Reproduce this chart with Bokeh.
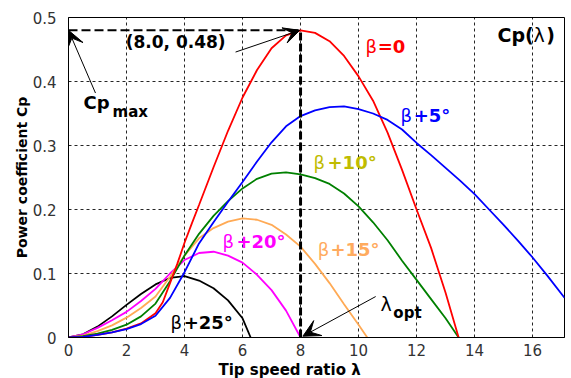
from bokeh.plotting import figure
from bokeh.models import Range1d, FixedTicker, Arrow, VeeHead, Label, Title
from bokeh.embed import file_html
from bokeh.resources import INLINE

# ---- data ----
x_ticks = [0, 2, 4, 6, 8, 10, 12, 14, 16]
y_ticks = [0, 0.1, 0.2, 0.3, 0.4, 0.5]

lam_b0 = [0, 0.5, 1, 1.5, 2, 2.5, 3, 3.25, 3.5, 3.75, 4, 4.25, 4.5, 5, 5.5, 6, 6.5, 7, 7.5, 8,
          8.5, 9, 9.5, 10, 10.5, 11, 11.5, 12, 12.5, 13, 13.45]
cp_b0 = [0, 0.001, 0.004, 0.008, 0.014, 0.022, 0.038, 0.055, 0.085, 0.115, 0.148, 0.178, 0.207,
         0.266, 0.323, 0.375, 0.418, 0.452, 0.472, 0.48,
         0.476, 0.463, 0.44, 0.408, 0.37, 0.32, 0.262, 0.2, 0.14, 0.07, 0]

lam_b5 = [0, 0.5, 1, 1.5, 2, 2.5, 3, 3.5, 4, 4.5, 5, 5.5, 6, 6.5, 7, 7.5, 8, 8.5, 9, 9.5, 10,
          10.5, 11, 11.5, 12, 12.5, 13, 13.5, 14, 14.5, 15, 15.5, 16, 16.5, 17.1]
cp_b5 = [0, 0.001, 0.004, 0.008, 0.013, 0.021, 0.034, 0.062, 0.102, 0.147, 0.18, 0.212, 0.243,
         0.275, 0.305, 0.33, 0.346, 0.355, 0.36, 0.361, 0.357,
         0.35, 0.34, 0.325, 0.304, 0.285, 0.265, 0.245, 0.224, 0.2, 0.176, 0.151, 0.125, 0.097, 0.062]

lam_b10 = [0, 0.5, 1, 1.5, 2, 2.5, 3, 3.5, 4, 4.5, 5, 5.5, 6, 6.5, 7, 7.5, 8, 8.5, 9, 9.5, 10,
           10.5, 11, 11.5, 12, 12.5, 13, 13.45]
cp_b10 = [0, 0.002, 0.006, 0.012, 0.02, 0.033, 0.053, 0.088, 0.128, 0.162, 0.19, 0.213, 0.233,
          0.248, 0.256, 0.258, 0.255, 0.249, 0.24, 0.225, 0.205,
          0.18, 0.152, 0.12, 0.09, 0.06, 0.03, 0]

lam_b15 = [0, 0.5, 1, 1.5, 2, 2.5, 3, 3.5, 4, 4.5, 5, 5.5, 6, 6.5, 7, 7.5, 8, 8.5, 9, 9.5, 10, 10.3]
cp_b15 = [0, 0.003, 0.01, 0.019, 0.031, 0.046, 0.064, 0.095, 0.128, 0.155, 0.171, 0.181, 0.186,
          0.184, 0.176, 0.161, 0.142, 0.115, 0.085, 0.052, 0.02, 0]

lam_b20 = [0, 0.5, 1, 1.5, 2, 2.5, 3, 3.5, 4, 4.5, 5, 5.5, 6, 6.5, 7, 7.5, 8]
cp_b20 = [0, 0.005, 0.015, 0.027, 0.04, 0.057, 0.076, 0.1, 0.121, 0.132, 0.134, 0.128, 0.117,
          0.098, 0.074, 0.042, 0]

lam_b25 = [0, 0.5, 1, 1.5, 2, 2.5, 3, 3.5, 4, 4.5, 5, 5.5, 6, 6.28]
cp_b25 = [0, 0.005, 0.017, 0.033, 0.051, 0.068, 0.083, 0.093, 0.096, 0.089, 0.077, 0.058, 0.03, 0]

lam_opt = 8.0
cp_max = 0.48

FONT = "DejaVu Sans"

p = figure(width=568, height=378, x_range=Range1d(0, 17.1), y_range=Range1d(0, 0.5),
           output_backend="svg", toolbar_location=None,
           min_border_left=68, min_border_right=4, min_border_top=17, min_border_bottom=40)
p.background_fill_color = "white"
p.border_fill_color = "white"
p.outline_line_color = "black"
p.outline_line_width = 1
p.outline_line_alpha = 1

p.xaxis.ticker = FixedTicker(ticks=x_ticks)
p.yaxis.ticker = FixedTicker(ticks=y_ticks)
p.yaxis.major_label_overrides = {0: "0"}
for ax in (p.xaxis, p.yaxis):
    ax.axis_line_color = "black"
    ax.major_tick_line_color = None
    ax.minor_tick_line_color = None
    ax.major_label_text_font = FONT
    ax.major_label_text_font_size = "15px"
    ax.major_label_text_color = "#333333"
    ax.axis_label_text_font = FONT
    ax.axis_label_text_font_style = "bold"
    ax.axis_label_text_color = "black"
p.xaxis.major_label_standoff = 0
p.yaxis.axis_label = "Power coefficient Cp"
p.yaxis.axis_label_text_font_size = "14px"
p.yaxis.major_label_standoff = 6
p.yaxis.axis_label_standoff = 0

# x axis title, left of centre as in the reference
p.add_layout(Title(text="Tip speed ratio λ", align="left", offset=150, standoff=0,
                   text_font=FONT, text_font_size="15px", text_font_style="bold",
                   text_color="black"), "below")

for g in (p.xgrid, p.ygrid):
    g.grid_line_color = "black"
    g.grid_line_dash = "3 3"
    g.grid_line_width = 1
    g.grid_line_alpha = 0.85

curves = [
    (lam_b25, cp_b25, "black"),
    (lam_b20, cp_b20, "#ff00ff"),
    (lam_b15, cp_b15, "#ffaa55"),
    (lam_b10, cp_b10, "#008000"),
    (lam_b0, cp_b0, "#ff0000"),
    (lam_b5, cp_b5, "#0000ff"),
]
for xs, ys, c in curves:
    p.line(xs, ys, line_color=c, line_width=1.8)

# optimum markers
p.line([0, lam_opt], [cp_max, cp_max], line_color="black", line_width=2, line_dash="9 4")
p.line([lam_opt, lam_opt], [0, cp_max], line_color="black", line_width=3, line_dash="8 3")

def arrow(x0, y0, x1, y1, size):
    p.add_layout(Arrow(end=VeeHead(size=size, fill_color="black", line_color="black"),
                       x_start=x0, y_start=y0, x_end=x1, y_end=y1,
                       line_color="black", line_width=1))

arrow(0.93, 0.382, 0.0, cp_max, 17)
arrow(5.76, 0.446, lam_opt - 0.03, cp_max, 16)
arrow(10.59, 0.064, lam_opt + 0.08, 0.002, 17)

def label(x, y, text, color="black", size="18px", style="bold"):
    p.add_layout(Label(x=x, y=y, text=text, text_color=color, text_font=FONT,
                       text_font_size=size, text_font_style=style,
                       text_baseline="middle", text_align="left"))

label(1.97, 0.461, "(8.0, 0.48)", size="17px")
label(0.52, 0.367, "Cp", size="18px")
label(1.52, 0.352, "max", size="15px")

def beta(xb, xr, y, rest, color):
    label(xb, y, "β", color=color, size="18px", style="normal")
    label(xr, y, rest, color=color, size="18px")

beta(10.24, 10.66, 0.455, "=0", "#ff0000")
beta(11.45, 11.9, 0.347, "+5°", "#0000ff")
beta(8.45, 8.93, 0.273, "+10°", "#c0bc00")
beta(8.59, 9.03, 0.1375, "+15°", "#ffab5e")
beta(5.31, 5.79, 0.15, "+20°", "#ff00ff")
beta(3.52, 3.97, 0.0234, "+25°", "black")

label(14.79, 0.473, "Cp(", size="19px")
label(16.03, 0.473, "λ", size="19px", style="normal")
label(16.47, 0.473, ")", size="19px")

label(10.76, 0.053, "λ", size="19px", style="normal")
label(11.2, 0.039, "opt", size="15px")

open("out.html", "w").write(file_html(p, INLINE))
